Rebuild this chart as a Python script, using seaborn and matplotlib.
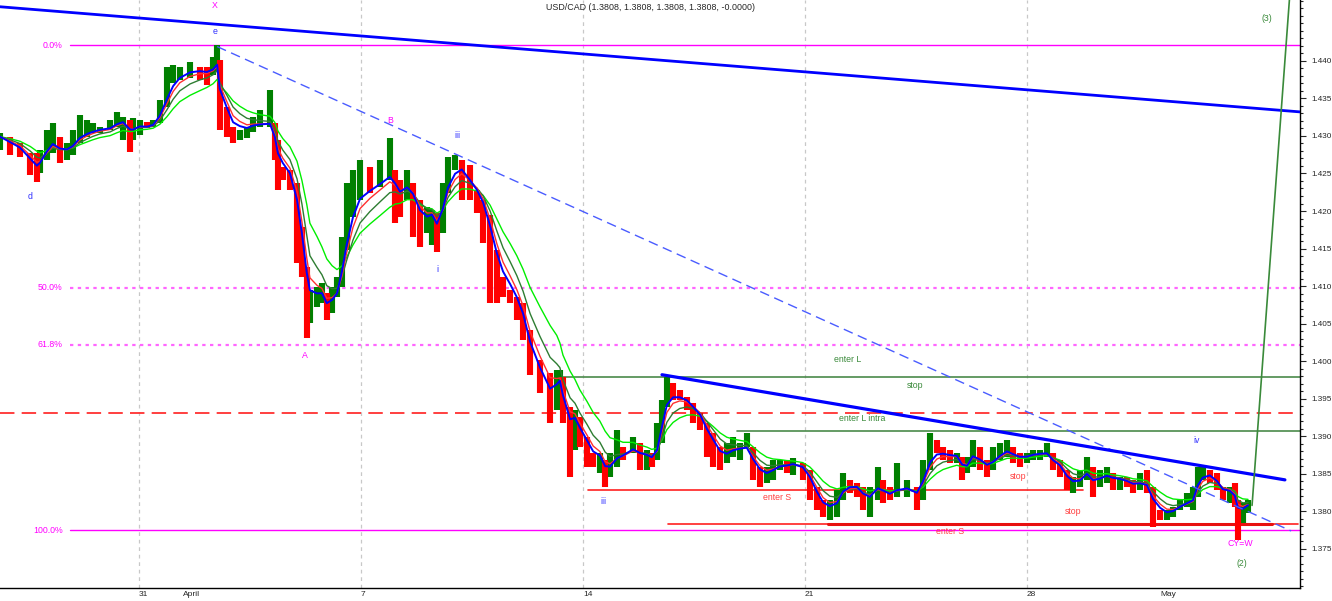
import numpy as np
import pandas as pd
import matplotlib
matplotlib.use("Agg")
import matplotlib.pyplot as plt
import seaborn as sns

# ---------------- data (trading days since Mar 31, price) ----------------
day = [-3.13, -2.91, -2.68, -2.45, -2.30, -2.23, -2.07, -1.94, -1.78, -1.62, -1.49, -1.33,
       -1.17, -1.04, -0.88, -0.65, -0.50, -0.36, -0.20, -0.14, 0.02, 0.18, 0.32, 0.47,
       0.63, 0.77, 0.92, 1.15, 1.37, 1.53, 1.67, 1.76, 1.82, 1.98, 2.12, 2.27, 2.43, 2.57,
       2.73, 2.95, 3.06, 3.13, 3.24, 3.40, 3.56, 3.67, 3.78, 3.85, 4.01, 4.12, 4.23, 4.35,
       4.46, 4.57, 4.68, 4.82, 4.98, 5.20, 5.43, 5.65, 5.77, 5.88, 6.04, 6.17, 6.33, 6.49,
       6.60, 6.71, 6.85, 6.96, 7.12, 7.27, 7.45, 7.61, 7.75, 7.91, 8.06, 8.20, 8.36, 8.51,
       8.65, 8.81, 9.03, 9.26, 9.41, 9.48, 9.55, 9.71, 9.82, 9.93, 10.09, 10.23, 10.38,
       10.50, 10.61, 10.77, 10.90, 11.13, 11.28, 11.44, 11.55, 11.67, 11.78, 11.89, 12.03,
       12.18, 12.34, 12.48, 12.64, 12.79, 12.93, 13.09, 13.24, 13.38, 13.54, 13.69, 13.83,
       13.99, 14.14, 14.28, 14.44, 14.59, 14.73, 14.95, 15.11, 15.27, 15.41, 15.56, 15.72,
       15.86, 16.01, 16.17, 16.31, 16.46, 16.64, 16.76, 16.91, 17.07, 17.30, 17.52, 17.66,
       17.82, 17.97, 18.11, 18.27, 18.42, 18.54, 18.65, 18.78, 18.94, 19.10, 19.23, 19.39,
       19.55, 19.68, 19.84, 20.00, 20.14, 20.29, 20.45, 20.59, 20.74, 20.90, 21.04, 21.19,
       21.35, 21.49, 21.64, 21.80, 21.94, 22.09, 22.25, 22.39, 22.55, 22.70, 22.84, 23.00,
       23.15, 23.29, 23.45, 23.60, 23.74, 23.85, 23.96, 24.12, 24.28, 24.41, 24.57, 24.68,
       24.75, 24.86, 24.98]
close = [1.4299, 1.4285, 1.4277, 1.4255, 1.4251, 1.4268, 1.4295, 1.4299, 1.4277, 1.4281,
         1.4291, 1.4308, 1.4308, 1.4308, 1.4311, 1.4312, 1.4321, 1.4321, 1.4299, 1.4308,
         1.4317, 1.4312, 1.4317, 1.4339, 1.4371, 1.4384, 1.4388, 1.4392, 1.4388, 1.4384,
         1.4392, 1.4401, 1.4331, 1.4312, 1.4299, 1.4308, 1.4308, 1.4317, 1.4317, 1.4317,
         1.4281, 1.4255, 1.4251, 1.4237, 1.4179, 1.4126, 1.4064, 1.4072, 1.4086, 1.4091,
         1.4064, 1.4086, 1.4099, 1.4148, 1.4192, 1.4228, 1.4241, 1.4237, 1.4245, 1.4255,
         1.4228, 1.4215, 1.4237, 1.4215, 1.4179, 1.4184, 1.4198, 1.4171, 1.4224, 1.4259,
         1.4268, 1.4261, 1.4228, 1.4215, 1.4195, 1.4148, 1.4108, 1.4095, 1.4086, 1.4068,
         1.4042, 1.3988, 1.3958, 1.3935, 1.3975, 1.3979, 1.3935, 1.3891, 1.3926, 1.3899,
         1.3878, 1.3865, 1.3869, 1.3846, 1.3859, 1.3882, 1.3878, 1.3891, 1.3873, 1.3873,
         1.3869, 1.3891, 1.3944, 1.3971, 1.3962, 1.3952, 1.3944, 1.3931, 1.3918, 1.3891,
         1.3882, 1.3865, 1.3873, 1.3886, 1.3886, 1.3886, 1.3855, 1.3842, 1.3846, 1.3859,
         1.3865, 1.3862, 1.3865, 1.3855, 1.3833, 1.3806, 1.3798, 1.3802, 1.3815, 1.3842,
         1.3838, 1.3833, 1.3815, 1.3815, 1.3842, 1.3825, 1.3819, 1.3833, 1.3833, 1.3819,
         1.3855, 1.3891, 1.3886, 1.3878, 1.3873, 1.3873, 1.3851, 1.3859, 1.3886, 1.3865,
         1.3855, 1.3869, 1.3882, 1.3886, 1.3873, 1.3869, 1.3873, 1.3878, 1.3878, 1.3878,
         1.3859, 1.3855, 1.3833, 1.3833, 1.3842, 1.3859, 1.3833, 1.3846, 1.3851, 1.3842,
         1.3842, 1.3838, 1.3833, 1.3838, 1.3833, 1.3798, 1.3793, 1.3793, 1.3802, 1.3812,
         1.3815, 1.3819, 1.3855, 1.3855, 1.3851, 1.3833, 1.3819, 1.3825, 1.3815, 1.3789,
         1.3802, 1.3813]
high = [1.4304, 1.4299, 1.4291, 1.4277, 1.4277, 1.4281, 1.4308, 1.4317, 1.4295, 1.4291,
        1.4308, 1.4328, 1.4321, 1.4317, 1.4312, 1.4321, 1.4332, 1.4325, 1.4321, 1.4324,
        1.4321, 1.4319, 1.4321, 1.4348, 1.4392, 1.4395, 1.4392, 1.4399, 1.4392, 1.4392,
        1.4405, 1.4421, 1.4384, 1.4339, 1.4312, 1.4308, 1.4312, 1.4325,
        1.4335, 1.4361, 1.4312, 1.4295, 1.4259, 1.4255, 1.4192, 1.4166, 1.4095, 1.4095,
        1.4099, 1.4104, 1.4086, 1.4099, 1.4112, 1.4166, 1.4237, 1.4255, 1.4268, 1.4259,
        1.4268, 1.4297, 1.4251, 1.4241, 1.4255, 1.4237, 1.4192, 1.4206, 1.4202, 1.4184,
        1.4237, 1.4272, 1.4275, 1.4251, 1.4245, 1.4228, 1.4206, 1.4184, 1.4112, 1.4112,
        1.4095, 1.4082, 1.4078,
        1.4028, 1.4002, 1.3984, 1.3988, 1.3988, 1.3962, 1.3939, 1.3935, 1.3922, 1.3895,
        1.3878, 1.3878, 1.3865, 1.3878, 1.3908, 1.3886, 1.3899, 1.3882, 1.3882, 1.3878,
        1.3918, 1.3948, 1.3979, 1.3966, 1.3958, 1.3952, 1.3939, 1.3931, 1.3912, 1.3904,
        1.3886, 1.3891, 1.3899, 1.3891, 1.3904, 1.3886, 1.3859, 1.3859, 1.3869,
        1.3869, 1.3869, 1.3871, 1.3859, 1.3842, 1.3825, 1.3815, 1.3815, 1.3829, 1.3851,
        1.3842, 1.3838, 1.3833, 1.3833, 1.3859, 1.3838, 1.3833, 1.3865, 1.3842, 1.3825,
        1.3869, 1.3904, 1.3895, 1.3886, 1.3882, 1.3878, 1.3869, 1.3873, 1.3895, 1.3878,
        1.3869, 1.3886, 1.3891, 1.3895, 1.3882, 1.3878, 1.3878, 1.3882,
        1.3882, 1.3891, 1.3878, 1.3869, 1.3855, 1.3846, 1.3855, 1.3873, 1.3851, 1.3855,
        1.3859, 1.3851, 1.3846, 1.3846, 1.3842, 1.3851, 1.3855, 1.3819, 1.3802, 1.3802,
        1.3806, 1.3815, 1.3825, 1.3833, 1.3859, 1.3859, 1.3855, 1.3846, 1.3833, 1.3833,
        1.3838, 1.3811, 1.3811, 1.3815]
low = [1.4281, 1.4275, 1.4272, 1.4248, 1.4239, 1.4251, 1.4272, 1.4277, 1.4264, 1.4268,
       1.4275, 1.4295, 1.4299, 1.4304, 1.4304, 1.4308, 1.4315, 1.4295, 1.4279, 1.4295,
       1.4301, 1.4311, 1.4312, 1.4321, 1.4348, 1.4371, 1.4375, 1.4377, 1.4375, 1.4368,
       1.4381, 1.4385, 1.4308, 1.4299, 1.4291, 1.4295, 1.4297, 1.4305,
       1.4312, 1.4312, 1.4268, 1.4228, 1.4241, 1.4228, 1.4131, 1.4112, 1.4031, 1.4051,
       1.4078, 1.4078, 1.4055, 1.4082, 1.4095, 1.4126, 1.4175, 1.4202, 1.4215, 1.4224,
       1.4232, 1.4241, 1.4184, 1.4192, 1.4219, 1.4166, 1.4152, 1.4171, 1.4155, 1.4146,
       1.4192, 1.4228, 1.4255, 1.4215, 1.4215, 1.4198, 1.4158, 1.4078, 1.4078, 1.4086,
       1.4078, 1.4055, 1.4028,
       1.3982, 1.3958, 1.3918, 1.3962, 1.3948, 1.3918, 1.3846, 1.3882, 1.3886, 1.3859,
       1.3859, 1.3851, 1.3833, 1.3851, 1.3865, 1.3869, 1.3878, 1.3855, 1.3855, 1.3859,
       1.3878, 1.3904, 1.3939, 1.3948, 1.3948, 1.3935, 1.3918, 1.3908, 1.3873, 1.3859,
       1.3855, 1.3873, 1.3882, 1.3869, 1.3886, 1.3842, 1.3833, 1.3838, 1.3842,
       1.3855, 1.3851, 1.3848, 1.3842, 1.3815, 1.3802, 1.3793, 1.3789, 1.3793, 1.3819,
       1.3825, 1.3819, 1.3802, 1.3793, 1.3825, 1.3811, 1.3815, 1.3825, 1.3819, 1.3802,
       1.3815, 1.3865, 1.3878, 1.3869, 1.3865, 1.3865, 1.3842, 1.3855, 1.3873, 1.3855,
       1.3846, 1.3865, 1.3873, 1.3873, 1.3865, 1.3859, 1.3865, 1.3869,
       1.3869, 1.3873, 1.3855, 1.3846, 1.3829, 1.3825, 1.3833, 1.3846, 1.3819, 1.3833,
       1.3838, 1.3829, 1.3829, 1.3833, 1.3825, 1.3829, 1.3825, 1.3779, 1.3789, 1.3789,
       1.3793, 1.3802, 1.3806, 1.3802, 1.3819, 1.3842, 1.3838, 1.3829, 1.3815, 1.3811,
       1.3806, 1.3762, 1.3785, 1.3798]

tick_days = [0, 1, 5, 10, 15, 20, 23]
tick_labels = ['31', 'April', '7', '14', '21', '28', 'May']
grid_days = [0, 5, 10, 15, 20]
price_ticks = [1.375, 1.380, 1.385, 1.390, 1.395, 1.400, 1.405, 1.410, 1.415,
               1.420, 1.425, 1.430, 1.435, 1.440]

fib_high, fib_low = 1.4421, 1.3775
fib_levels = [0.0, 0.5, 0.618, 1.0]
fib_names = ['0.0%', '50.0%', '61.8%', '100.0%']

main_trend_days = [-3.13, 26.15]
main_trend_prices = [1.4472, 1.4332]
dash_trend_days = [1.76, 25.95]
dash_trend_prices = [1.4419, 1.3774]
lower_trend_days = [11.78, 25.81]
lower_trend_prices = [1.3982, 1.3842]
proj_days = [25.07, 25.92]
proj_prices = [1.3808, 1.4488]

enter_long = 1.3979
enter_long_intra = 1.3907
red_dash_level = 1.3931
enter_short = 1.3829
enter_short2 = 1.3783

# ---------------- figure ----------------
sns.set_style("white")
plt.rcParams['font.family'] = ['Liberation Sans', 'DejaVu Sans']

W, H = 1332, 601
fig = plt.figure(figsize=(W / 100, H / 100), dpi=100)
ax = fig.add_axes([0, 13 / H, 1300 / W, 588 / H])
XMIN, XMAX = -3.13, 26.15
ax.set_xlim(XMIN, XMAX)
ax.set_ylim(1.3698, 1.4481)

for g in grid_days:
    ax.axvline(g, color='#c8c8c8', lw=0.9, dashes=(3, 3), zorder=0)

FS = 6.3
# fib levels
for lvl, name in zip(fib_levels, fib_names):
    p = fib_high - lvl * (fib_high - fib_low)
    if lvl in (0.0, 1.0):
        ax.plot([-1.55, XMAX], [p, p], color='#ff00ff', lw=1.0, zorder=1)
    else:
        ax.plot([-1.55, XMAX], [p, p], color='#ff66ff', lw=1.6, dashes=(1.5, 2), zorder=1)
    ax.text(-1.72, p, name, color='#ff00ff', fontsize=FS, ha='right', va='center')

# levels
ax.plot([9.41, XMAX], [enter_long] * 2, color='#4a8a4a', lw=1.2, zorder=2)
ax.plot([13.47, XMAX], [enter_long_intra] * 2, color='#4a8a4a', lw=1.2, zorder=2)
ax.axhline(red_dash_level, color='#ff3030', lw=1.3, dashes=(8, 4), zorder=2)
ax.plot([10.11, 21.26], [enter_short] * 2, color='#ff2020', lw=1.2, zorder=2)
ax.plot([11.91, 26.10], [enter_short2] * 2, color='#ff2020', lw=1.2, zorder=2)
ax.plot([15.52, 25.52], [enter_short2] * 2, color='#e81010', lw=2.2, zorder=2)

# price bars (range bars coloured by direction)
d = np.array(day)
c = np.array(close)
hi = np.array(high)
lo = np.array(low)
prev = np.r_[c[0], c[:-1]]
up = c >= prev
top = np.maximum(hi, np.maximum(prev, c))
bot = np.minimum(lo, np.minimum(prev, c))
ax.vlines(d[up], bot[up], top[up], color='#008000', lw=4.4, zorder=3)
ax.vlines(d[~up], bot[~up], top[~up], color='#ff0000', lw=4.4, zorder=3)

# moving averages
s = pd.Series(c)
ma_specs = [(10, '#00ee00', 1.0), (6, '#2e7d32', 1.0), (4, '#ff3030', 1.0), (3, '#0000ff', 1.4)]
for span, col, lw in ma_specs:
    sns.lineplot(x=d, y=s.ewm(span=span, adjust=False).mean().values, ax=ax,
                 color=col, lw=lw, estimator=None, sort=False, zorder=4)

# trendlines
ax.plot(main_trend_days, main_trend_prices, color='#0000ff', lw=2.0, zorder=5)
ax.plot(dash_trend_days, dash_trend_prices, color='#4a5cff', lw=1.0, dashes=(7, 4), zorder=5)
ax.plot(lower_trend_days, lower_trend_prices, color='#0000ff', lw=2.3, zorder=5)
ax.plot(proj_days, proj_prices, color='#3a8a3a', lw=1.2, zorder=5)

# annotations
blue, mag, grn, red = '#3030ff', '#ff00ff', '#3a8a3a', '#ff4040'
labels = [
    ('X', 1.71, 1.4474, mag), ('e', 1.71, 1.4439, blue), ('d', -2.45, 1.4219, blue),
    ('A', 3.74, 1.4007, mag), ('B', 5.65, 1.4321, mag), ('iii', 7.18, 1.4301, blue),
    ('i', 6.73, 1.4122, blue), ('iii', 10.45, 1.3813, blue), ('iv', 23.83, 1.3895, blue),
    ('CY=W', 24.80, 1.3757, mag), ('(2)', 24.84, 1.3731, grn), ('(3)', 25.41, 1.4457, grn),
    ('enter L', 15.96, 1.4002, grn), ('stop', 17.48, 1.3968, grn),
    ('enter L intra', 16.28, 1.3924, grn), ('enter S', 14.38, 1.3818, red),
    ('stop', 19.81, 1.3846, red), ('stop', 21.04, 1.3800, red), ('enter S', 18.27, 1.3773, red),
]
for t, x, y, col in labels:
    ax.text(x, y, t, color=col, fontsize=FS, ha='center', va='center', zorder=6)

fig.text(650 / W, 1 - 7 / H, 'USD/CAD (1.3808, 1.3808, 1.3808, 1.3808, -0.0000)',
         fontsize=6.4, ha='center', va='center')

# axes styling
for sp in ['left', 'top']:
    ax.spines[sp].set_visible(False)
for sp in ['right', 'bottom']:
    ax.spines[sp].set_color('black')
    ax.spines[sp].set_linewidth(1.0)
ax.yaxis.tick_right()
ax.set_yticks(price_ticks)
ax.set_yticklabels([f'{p:.3f}' for p in price_ticks], fontsize=5.9)
ax.set_yticks(np.round(np.arange(1.370, 1.4481, 0.001), 3), minor=True)
ax.tick_params(axis='y', which='major', direction='out', length=4, width=0.8, pad=4, right=True, left=False)
ax.tick_params(axis='y', which='minor', direction='out', length=2.5, width=0.8, right=True, left=False)
ax.set_xticks(tick_days)
ax.set_xticklabels(tick_labels, fontsize=6, ha='left')
ax.tick_params(axis='x', direction='out', length=9, width=0.8, pad=-7)
for lab in ax.get_xticklabels():
    lab.set_x(lab.get_position()[0] + 0.04)
ax.set_xlabel('')
ax.set_ylabel('')

fig.savefig('out.png', dpi=100)
